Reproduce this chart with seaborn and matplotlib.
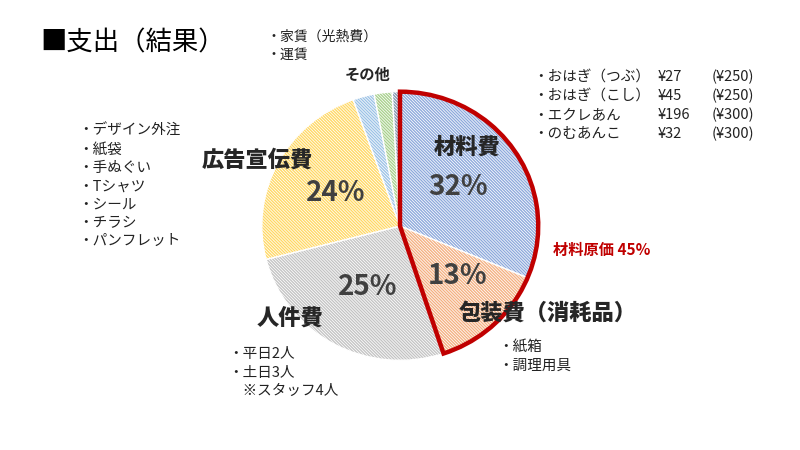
import matplotlib
matplotlib.use("Agg")
import matplotlib.pyplot as plt
from matplotlib.patches import Wedge
import seaborn as sns

sns.set_theme(style="white")
plt.rcParams['font.family'] = ['Noto Sans CJK JP', 'DejaVu Sans']
plt.rcParams['hatch.linewidth'] = 0.55

# ---- data ----
categories = ['材料費', '包装費（消耗品）', '人件費', '広告宣伝費', '家賃（光熱費）', '運賃', 'その他']
values = [31.3, 13.6, 26.1, 23.5, 2.5, 2.1, 0.9]
pct_labels = ['32%', '13%', '25%', '24%']
colors = ['#8FAADC', '#F4B183', '#C4C4C4', '#FFD966', '#9DC3E6', '#A9D18E', '#8497B0']
highlight_label = '材料原価 45%'

title = '■支出（結果）'
other_notes = ['・家賃（光熱費）', '・運賃']
material_items = ['・おはぎ（つぶ）', '・おはぎ（こし）', '・エクレあん', '・のむあんこ']
material_cost = ['¥27', '¥45', '¥196', '¥32']
material_price = ['(¥250)', '(¥250)', '(¥300)', '(¥300)']
ad_items = ['・デザイン外注', '・紙袋', '・手ぬぐい', '・Tシャツ', '・シール', '・チラシ', '・パンフレット']
pack_items = ['・紙箱', '・調理用具']
staff_items = ['・平日2人', '・土日3人', '　※スタッフ4人']

W, H = 800, 450
fig = plt.figure(figsize=(W / 100, H / 100), dpi=100)
fig.patch.set_facecolor('white')


def px(x, y):
    return x / W, 1 - y / H


def t(x, y, s, **kw):
    fig.text(*px(x, y), s, **kw)


# pie axes
cx, cy, rx, ry = 400, 226, 141, 137
ax = fig.add_axes([(cx - rx) / W, (H - cy - ry) / H, 2 * rx / W, 2 * ry / H])
wedges, _ = ax.pie(values, colors=colors, startangle=90, counterclock=False,
                   wedgeprops=dict(edgecolor='white', linewidth=1.0, hatch='\\' * 11))
ax.set_xlim(-1.02, 1.02)
ax.set_ylim(-1.02, 1.02)
ax.set_aspect('auto')
ax.axis('off')

frac = (values[0] + values[1]) / sum(values)
ax.add_patch(Wedge((0, 0), 1.0, 90 - 360 * frac, 90, fill=False,
                   edgecolor='#C00000', linewidth=3.2, joinstyle='miter', zorder=5))

# title and notes
t(40, 43, title, fontsize=19, va='center', ha='left', color='black')
t(266, 37, other_notes[0], fontsize=10, va='center', ha='left', color='#222222')
t(266, 55, other_notes[1], fontsize=10, va='center', ha='left', color='#222222')
t(368, 75, 'その他', fontsize=11, va='center', ha='center', weight='bold')

# material list
for i in range(4):
    yy = 77 + i * 19
    t(533, yy, material_items[i], fontsize=10.5, va='center', ha='left', color='#222222')
    t(658, yy, material_cost[i], fontsize=10.5, va='center', ha='left', color='#222222')
    t(712, yy, material_price[i], fontsize=10.5, va='center', ha='left', color='#222222')

# ad list
for i, s in enumerate(ad_items):
    t(78, 131 + i * 18.4, s, fontsize=10.5, va='center', ha='left', color='#222222')

for i, s in enumerate(pack_items):
    t(498, 347 + i * 19, s, fontsize=10.5, va='center', ha='left', color='#222222')

for i, s in enumerate(staff_items):
    t(228, 354 + i * 18.5, s, fontsize=10.5, va='center', ha='left', color='#222222')

# category labels
t(467, 147, categories[0], fontsize=16, weight='black', ha='center', va='center')
t(548, 313, categories[1], fontsize=16, weight='black', ha='center', va='center')
t(290, 318, categories[2], fontsize=16, weight='black', ha='center', va='center')
t(257, 160, categories[3], fontsize=16, weight='black', ha='center', va='center')

pct_pos = [(458, 187), (458, 276), (368, 287), (336, 193)]
for (x, y), s in zip(pct_pos, pct_labels):
    t(x, y, s, fontsize=20, ha='center', va='center', color='#404040', weight='semibold')

t(553, 250, highlight_label, fontsize=11, weight='bold', color='#C00000', ha='left', va='center')

fig.savefig('out.png', dpi=100)
